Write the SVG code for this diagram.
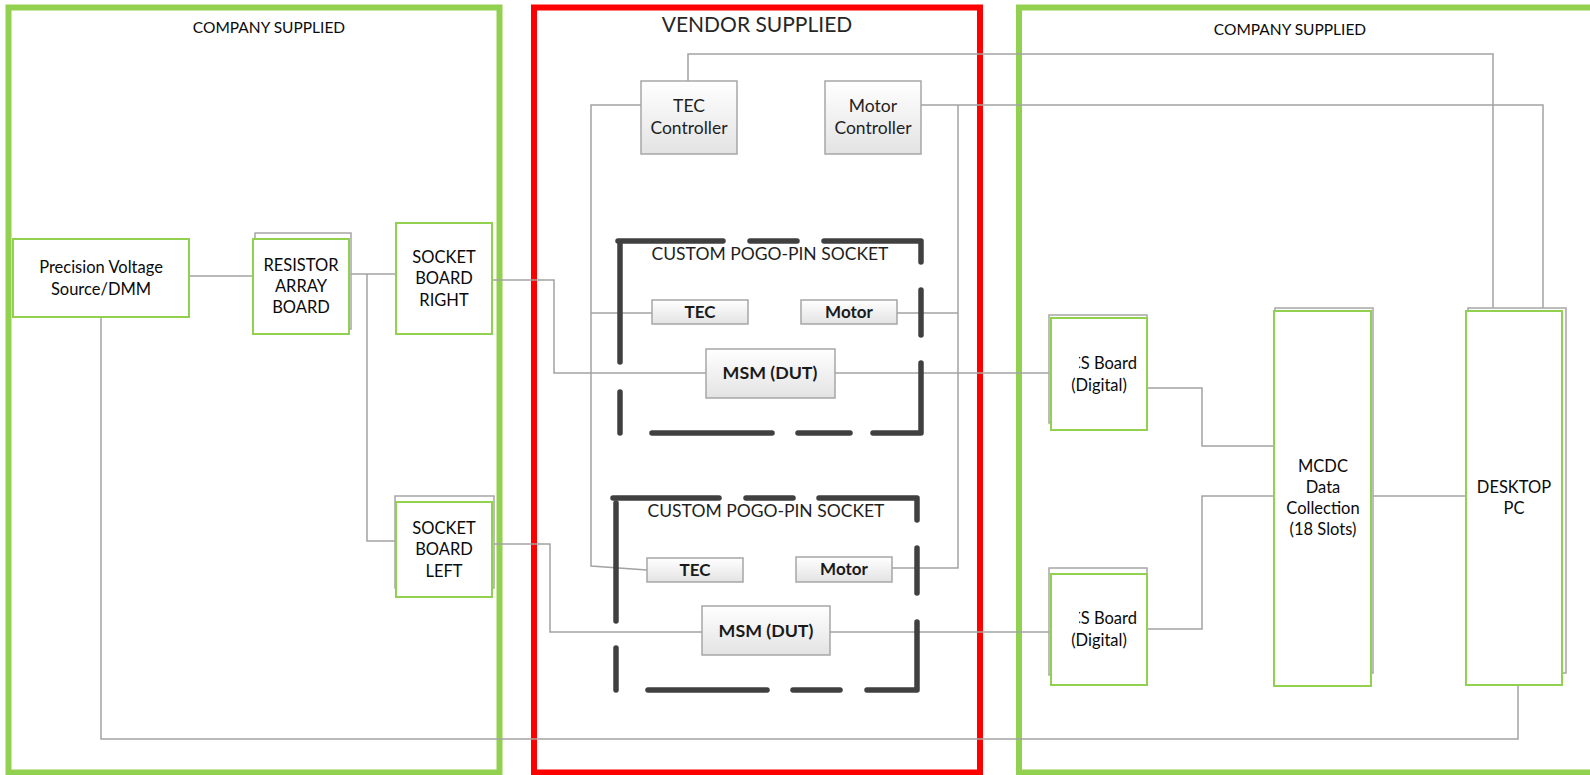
<svg xmlns="http://www.w3.org/2000/svg" width="1590" height="775" viewBox="0 0 1590 775">
<defs>
  <linearGradient id="gbox" x1="0" y1="0" x2="0" y2="1">
    <stop offset="0" stop-color="#ffffff"/>
    <stop offset="1" stop-color="#e3e3e3"/>
  </linearGradient>
  <clipPath id="clipCS1"><rect x="1079" y="340" width="70" height="60"/></clipPath>
  <clipPath id="clipCS2"><rect x="1079" y="595" width="70" height="60"/></clipPath>
</defs>
<style>
  .frame-green { fill: none; stroke: #92D050; stroke-width: 6; }
  .frame-red { fill: none; stroke: #FF0000; stroke-width: 6; }
  .gbox { fill: #ffffff; stroke: #92D050; stroke-width: 2; }
  .shadow { fill: #ffffff; stroke: #a6a6a6; stroke-width: 1.5; }
  .grey { fill: url(#gbox); stroke: #a6a6a6; stroke-width: 1.5; }
  .conn { fill: none; stroke: #a3a3a3; stroke-width: 1.5; }
  .dash { fill: none; stroke: #404040; stroke-width: 5.5; stroke-linecap: round; stroke-linejoin: round; }
  text { font-family: Lato, "Open Sans", "Liberation Sans", sans-serif; fill: #0a0a0a; text-anchor: middle; }
  .t { font-size: 16.5px; }
  .title { font-size: 15.5px; }
  .vtitle { font-size: 21px; fill: #262626; }
  .gt { font-size: 17.5px; fill: #1f1f1f; }
  .bt { font-size: 17px; font-weight: bold; fill: #1a1a1a; }
  .bt2 { font-size: 17.8px; font-weight: bold; fill: #1a1a1a; }
</style>

<!-- Frames -->
<g id="frame-company-left">
  <rect class="frame-green" x="8.5" y="7.5" width="491" height="765"/>
  <text class="title" x="269" y="33">COMPANY SUPPLIED</text>
</g>
<g id="frame-vendor">
  <rect class="frame-red" x="534" y="7.5" width="446" height="765"/>
  <text class="vtitle" x="757" y="32">VENDOR SUPPLIED</text>
</g>
<g id="frame-company-right">
  <rect class="frame-green" x="1019" y="7.5" width="580" height="765"/>
  <text class="title" x="1290" y="35">COMPANY SUPPLIED</text>
</g>

<!-- Connectors -->
<g id="connectors">
  <path class="conn" d="M189,276 H253"/>
  <path class="conn" d="M349,274 H396"/>
  <path class="conn" d="M367,274 V541 H396"/>
  <path class="conn" d="M492,280 H554 V373 H706"/>
  <path class="conn" d="M492,544 H550 V632 H702"/>
  <path class="conn" d="M101,317 V739 H1518 V685"/>
  <path class="conn" d="M835,373 H1049"/>
  <path class="conn" d="M830,632 H1049"/>
  <path class="conn" d="M688,81 V54 H1493 V308"/>
  <path class="conn" d="M921,105 H1543 V308"/>
  <path class="conn" d="M641,105 H591 V566 L647,570"/>
  <path class="conn" d="M591,313 H652"/>
  <path class="conn" d="M958,105 V568 H892"/>
  <path class="conn" d="M897,313 H958"/>
  <path class="conn" d="M1147,388 H1202 V446 H1274"/>
  <path class="conn" d="M1147,629 H1202 V496 H1274"/>
  <path class="conn" d="M1373,496 H1466"/>
</g>

<!-- Left company nodes -->
<g id="precision-voltage-source">
  <rect class="gbox" x="13" y="239" width="176" height="78"/>
  <text class="t" x="101" y="273">Precision Voltage</text>
  <text class="t" x="101" y="295">Source/DMM</text>
</g>
<g id="resistor-array-board">
  <rect class="shadow" x="255" y="233" width="96" height="96"/>
  <rect class="gbox" x="253" y="239" width="96" height="95"/>
  <text class="t" x="301" y="271">RESISTOR</text>
  <text class="t" x="301" y="292">ARRAY</text>
  <text class="t" x="301" y="313">BOARD</text>
</g>
<g id="socket-board-right">
  <rect class="gbox" x="396" y="223" width="96" height="111"/>
  <text class="t" x="444" y="263">SOCKET</text>
  <text class="t" x="444" y="284">BOARD</text>
  <text class="t" x="444" y="306">RIGHT</text>
</g>
<g id="socket-board-left">
  <rect class="shadow" x="395" y="496" width="99" height="92"/>
  <rect class="gbox" x="396" y="502" width="96" height="95"/>
  <text class="t" x="444" y="534">SOCKET</text>
  <text class="t" x="444" y="555">BOARD</text>
  <text class="t" x="444" y="577">LEFT</text>
</g>

<!-- Vendor nodes -->
<g id="tec-controller">
  <rect class="grey" x="641" y="81" width="96" height="73"/>
  <text class="gt" x="689" y="112">TEC</text>
  <text class="gt" x="689" y="134">Controller</text>
</g>
<g id="motor-controller">
  <rect class="grey" x="825" y="81" width="96" height="73"/>
  <text class="gt" x="873" y="112">Motor</text>
  <text class="gt" x="873" y="134">Controller</text>
</g>

<g id="pogo-socket-1">
  <path class="dash" d="M618,241 H723"/>
  <path class="dash" d="M750,241 H797"/>
  <path class="dash" d="M824,241 H921 V262"/>
  <path class="dash" d="M921,290 V335"/>
  <path class="dash" d="M921,363 V433 H873"/>
  <path class="dash" d="M850,433 H798"/>
  <path class="dash" d="M772,433 H652"/>
  <path class="dash" d="M620,392 V433"/>
  <path class="dash" d="M620,243 V362"/>
  <text class="gt" x="770" y="260">CUSTOM POGO-PIN SOCKET</text>
</g>
<g id="tec-1">
  <rect class="grey" x="652" y="300" width="96" height="24"/>
  <text class="bt" x="700" y="318">TEC</text>
</g>
<g id="motor-1">
  <rect class="grey" x="801" y="300" width="96" height="24"/>
  <text class="bt" x="849" y="318">Motor</text>
</g>
<g id="msm-dut-1">
  <rect class="grey" x="706" y="349" width="129" height="49"/>
  <text class="bt2" x="770" y="379">MSM (DUT)</text>
</g>

<g id="pogo-socket-2">
  <path class="dash" d="M613,498 H719"/>
  <path class="dash" d="M746,498 H793"/>
  <path class="dash" d="M819,498 H917 V520"/>
  <path class="dash" d="M917,548 V593"/>
  <path class="dash" d="M917,622 V690 H867"/>
  <path class="dash" d="M840,690 H793"/>
  <path class="dash" d="M767,690 H648"/>
  <path class="dash" d="M616,648 V690"/>
  <path class="dash" d="M616,503 V621"/>
  <text class="gt" x="766" y="517">CUSTOM POGO-PIN SOCKET</text>
</g>
<g id="tec-2">
  <rect class="grey" x="647" y="558" width="96" height="24"/>
  <text class="bt" x="695" y="576">TEC</text>
</g>
<g id="motor-2">
  <rect class="grey" x="796" y="557" width="96" height="25"/>
  <text class="bt" x="844" y="575">Motor</text>
</g>
<g id="msm-dut-2">
  <rect class="grey" x="702" y="606" width="128" height="49"/>
  <text class="bt2" x="766" y="637">MSM (DUT)</text>
</g>

<!-- Right company nodes -->
<g id="cs-board-1">
  <rect class="shadow" x="1049" y="315" width="98" height="108"/>
  <rect class="gbox" x="1051" y="318" width="96" height="112"/>
  <text class="t" x="1137" y="369" style="text-anchor:end" clip-path="url(#clipCS1)">CS Board</text>
  <text class="t" x="1099" y="391">(Digital)</text>
</g>
<g id="cs-board-2">
  <rect class="shadow" x="1049" y="568" width="98" height="107"/>
  <rect class="gbox" x="1051" y="574" width="96" height="111"/>
  <text class="t" x="1137" y="624" style="text-anchor:end" clip-path="url(#clipCS2)">CS Board</text>
  <text class="t" x="1099" y="646">(Digital)</text>
</g>
<g id="mcdc-data-collection">
  <rect class="shadow" x="1275" y="308" width="98" height="365"/>
  <rect class="gbox" x="1274" y="311" width="97" height="375"/>
  <text class="t" x="1323" y="472">MCDC</text>
  <text class="t" x="1323" y="493">Data</text>
  <text class="t" x="1323" y="514">Collection</text>
  <text class="t" x="1323" y="535">(18 Slots)</text>
</g>
<g id="desktop-pc">
  <rect class="shadow" x="1468" y="308" width="98" height="365"/>
  <rect class="gbox" x="1466" y="311" width="96" height="374"/>
  <text class="t" x="1514" y="493">DESKTOP</text>
  <text class="t" x="1514" y="514">PC</text>
</g>
</svg>
